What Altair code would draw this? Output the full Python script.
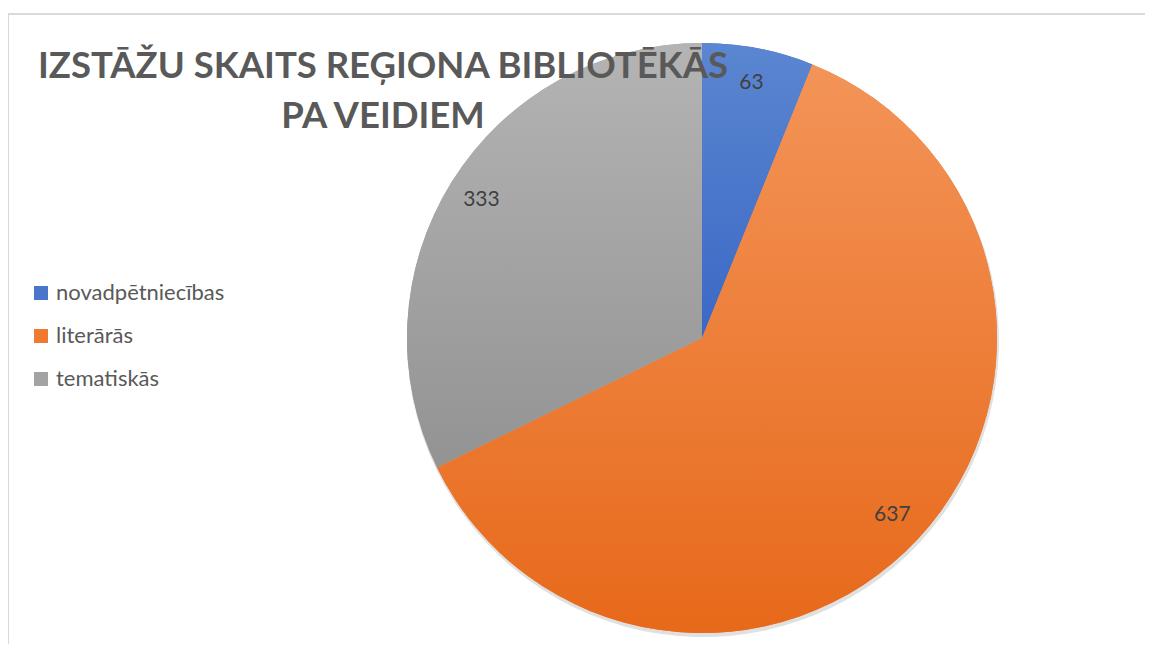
import altair as alt
import pandas as pd

categories = ["novadpētniecības", "literārās", "tematiskās"]
values = [63, 637, 333]
order = [1, 2, 3]
solid_colors = ["#4a76c9", "#ee7b2f", "#a3a3a3"]
grad_top = ["#5b86d1", "#f39458", "#b4b4b4"]
grad_bottom = ["#3b68c5", "#e7691a", "#939393"]
title_lines = ["IZSTĀŽU SKAITS REĢIONA BIBLIOTĒKĀS", "PA VEIDIEM"]

df = pd.DataFrame({"cat": categories, "value": values, "ord": order})

FONT = "Lato"
R = 295
CX, CY = 694, 324
W, H = 1137, 630

def grad(top, bottom):
    return {
        "gradient": "linear",
        "x1": 0, "y1": 0, "x2": 0, "y2": 1,
        "stops": [{"offset": 0, "color": top}, {"offset": 1, "color": bottom}],
    }

theta = alt.Theta("value:Q", stack=True)
base = alt.Chart(df)

shadow = base.mark_arc(radius=R + 1, fill="#000000", fillOpacity=0.12).encode(
    theta=theta, order=alt.Order("ord:Q"),
    x=alt.value(CX + 1), y=alt.value(CY + 3),
)

solid = base.mark_arc(radius=R).encode(
    theta=theta,
    order=alt.Order("ord:Q"),
    x=alt.value(CX), y=alt.value(CY),
    color=alt.Color(
        "cat:N",
        sort=categories,
        scale=alt.Scale(domain=categories, range=solid_colors),
        legend=alt.Legend(
            title=None,
            orient="none",
            legendX=22,
            legendY=268,
            symbolType="square",
            symbolSize=196,
            symbolStrokeWidth=0,
            labelFont=FONT,
            labelFontSize=22,
            labelColor="#595959",
            labelLimit=400,
            rowPadding=21,
            labelOffset=4,
        ),
    ),
)

fill_rule = (
    alt.when(alt.datum.cat == categories[0]).then(alt.value(grad(grad_top[0], grad_bottom[0])))
    .when(alt.datum.cat == categories[1]).then(alt.value(grad(grad_top[1], grad_bottom[1])))
    .otherwise(alt.value(grad(grad_top[2], grad_bottom[2])))
)

gradient_layer = base.mark_arc(radius=R).encode(
    theta=theta,
    order=alt.Order("ord:Q"),
    x=alt.value(CX), y=alt.value(CY),
    fill=fill_rule,
)

labels = base.mark_text(radius=260, font=FONT, fontSize=21, color="#404040").encode(
    theta=theta,
    order=alt.Order("ord:Q"),
    x=alt.value(CX), y=alt.value(CY),
    text=alt.Text("value:Q"),
)

frame_top = alt.Chart(df).mark_rule(color="#d9d9d9", strokeWidth=2).encode(
    x=alt.value(0), x2=alt.value(W + 10), y=alt.value(0)
)
frame_left = alt.Chart(df).mark_rule(color="#d9d9d9", strokeWidth=2).encode(
    x=alt.value(0), y=alt.value(0), y2=alt.value(H + 10)
)

chart = (
    alt.layer(frame_top, frame_left, shadow, solid, gradient_layer, labels)
    .properties(
        width=W,
        height=H,
        padding={"left": 0, "top": 6, "right": 0, "bottom": 0},
        autosize=alt.AutoSizeParams(type="none"),
        title=alt.TitleParams(
            text=title_lines,
            font=FONT,
            fontSize=36.5,
            fontWeight="bold",
            color="#595959",
            anchor="start",
            align="center",
            frame="group",
            dx=375,
            dy=87,
            offset=-35,
            baseline="top",
            lineHeight=50,
        ),
    )
    .configure_view(stroke="transparent", strokeWidth=0)
    .configure(background="white")
)

chart.save("out.html", embed_options={"renderer": "svg", "actions": False})
